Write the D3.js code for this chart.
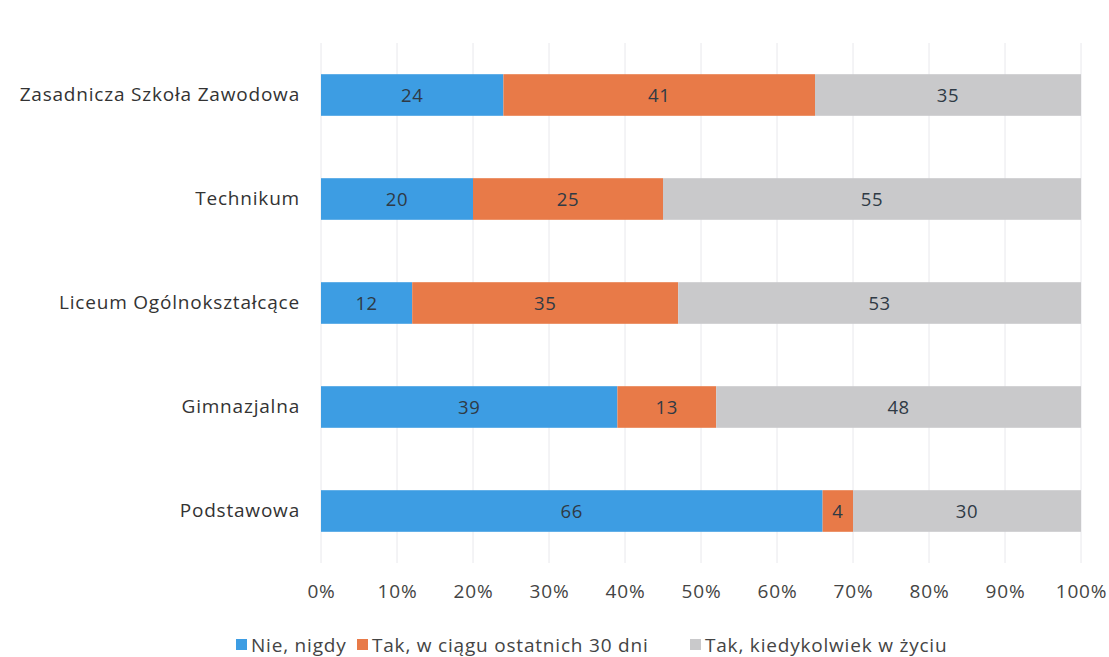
<!DOCTYPE html>
<html><head><meta charset="utf-8">
<script src="https://cdn.jsdelivr.net/npm/d3@7"></script>
<style>body{margin:0;background:#fff;} svg{display:block;}</style>
</head><body>
<svg id="c" width="1109" height="657"></svg>
<script>
const categories = ["Zasadnicza Szkoła Zawodowa","Technikum","Liceum Ogólnokształcące","Gimnazjalna","Podstawowa"];
const seriesNames = ["Nie, nigdy","Tak, w ciągu ostatnich 30 dni","Tak, kiedykolwiek w życiu"];
const nieNigdy = [24,20,12,39,66];
const tak30 = [41,25,35,13,4];
const takKiedy = [35,55,53,48,30];
const tickValues = [0,10,20,30,40,50,60,70,80,90,100];
const colors = ["#3d9de3","#e87a48","#c9c9cb"];

const svg = d3.select("#c");
const font = "'Open Sans', sans-serif";
const x = d3.scaleLinear().domain([0,100]).range([321,1081]);
const y = d3.scaleBand().domain(categories).range([43,563]).paddingInner(0.6).paddingOuter(0.3);

// gridlines
svg.append("g").selectAll("line").data(tickValues).join("line")
  .attr("x1",d=>x(d)).attr("x2",d=>x(d)).attr("y1",43).attr("y2",563)
  .attr("stroke","#e8e8ec").attr("stroke-width",1);

const series = [nieNigdy,tak30,takKiedy];
categories.forEach((cat,i)=>{
  let acc=0;
  series.forEach((s,k)=>{
    const v=s[i];
    svg.append("rect").attr("x",x(acc)).attr("y",y(cat)).attr("width",x(acc+v)-x(acc)).attr("height",y.bandwidth()).attr("fill",colors[k]);
    svg.append("text").attr("x",(x(acc)+x(acc+v))/2).attr("y",y(cat)+y.bandwidth()/2).attr("dy","0.36em")
      .attr("text-anchor","middle").attr("font-family",font).attr("font-size",18.5).attr("letter-spacing",0.6)
      .attr("fill","#2f3a45").text(v);
    acc+=v;
  });
});

// category labels
const yAxis = d3.axisLeft(y).tickSize(0).tickPadding(21);
const ya = svg.append("g").attr("transform","translate(321,0)").call(yAxis);
ya.select(".domain").remove();
ya.selectAll("text").attr("font-family",font).attr("font-size",19).attr("letter-spacing",0.8).attr("fill","#333");

// x axis
const xAxis = d3.axisBottom(x).tickValues(tickValues).tickFormat(d=>d+"%").tickSize(0).tickPadding(0);
const xa = svg.append("g").attr("transform","translate(0,584)").call(xAxis);
xa.select(".domain").remove();
xa.selectAll("text").attr("font-family",font).attr("font-size",19).attr("letter-spacing",0.8).attr("fill","#444");

// legend
const legX=[236,357,690];
const lg = svg.append("g");
seriesNames.forEach((n,k)=>{
  lg.append("rect").attr("x",legX[k]).attr("y",639).attr("width",11).attr("height",11).attr("fill",colors[k]);
  lg.append("text").attr("x",legX[k]+15).attr("y",645).attr("dy","0.36em").attr("font-family",font).attr("font-size",19)
    .attr("letter-spacing",0.8).attr("fill","#444").text(n);
});
</script>
</body></html>
